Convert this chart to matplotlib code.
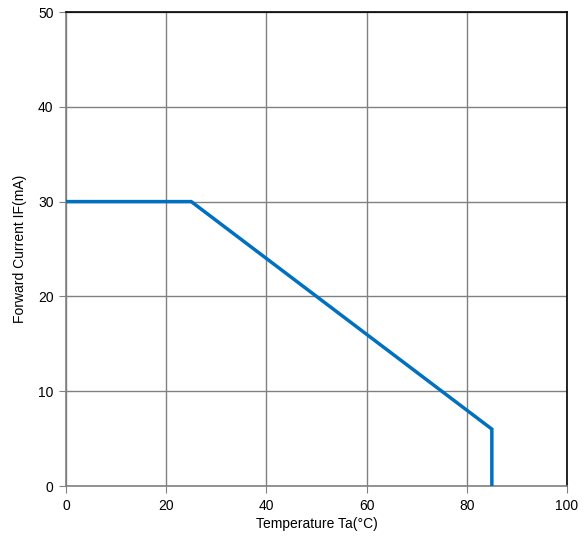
import matplotlib
matplotlib.use("Agg")
import matplotlib.pyplot as plt

temps = [0, 25, 85, 85]
currents = [30, 30, 6, 0]
xticks = [0, 20, 40, 60, 80, 100]
yticks = [0, 10, 20, 30, 40, 50]

plt.rcParams['font.family'] = ['Liberation Sans', 'DejaVu Sans']

fig = plt.figure(figsize=(5.88, 5.40), dpi=100)
ax = fig.add_axes([66/588, 54/540, (567-66)/588, (486-12)/540])
ax.plot(temps, currents, color='#0070C0', linewidth=2.5, solid_joinstyle='miter', zorder=3)
ax.set_xlim(0, 100)
ax.set_ylim(0, 50)
ax.set_xticks(xticks)
ax.set_yticks(yticks)
ax.grid(True, color='#808080', linewidth=1)
ax.set_axisbelow(True)
for s in ['left', 'bottom']:
    ax.spines[s].set_color('#808080')
    ax.spines[s].set_linewidth(1.2)
for s in ['top', 'right']:
    ax.spines[s].set_color('black')
    ax.spines[s].set_linewidth(1.2)
ax.tick_params(axis='both', direction='out', length=5, color='#808080', labelsize=10, pad=4)
ax.set_xlabel('Temperature Ta(°C)', fontsize=10, labelpad=3)
ax.set_ylabel('Forward Current IF(mA)', fontsize=10, labelpad=8)
fig.savefig('out.png', dpi=100)
